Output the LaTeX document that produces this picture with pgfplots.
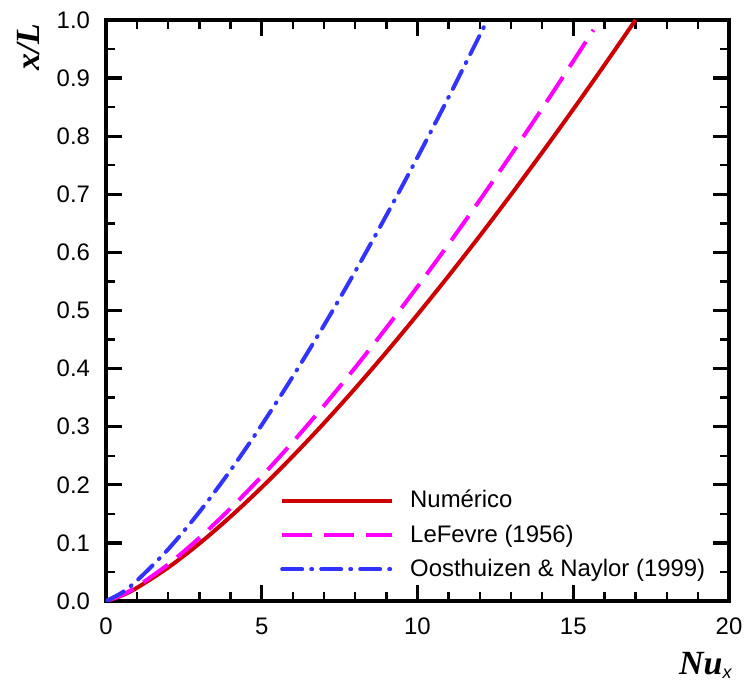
\documentclass[border=0pt]{standalone}
\usepackage{fontspec}
\setmainfont{Liberation Sans}
\newfontfamily\timesf{Liberation Serif}
\usepackage{pgfplots}
\pgfplotsset{compat=1.18}
\definecolor{cred}{RGB}{204,0,0}
\definecolor{cmag}{RGB}{255,0,255}
\definecolor{cblue}{RGB}{51,51,255}
\begin{document}
\begin{tikzpicture}
\begin{axis}[
  scale only axis, width=311.5bp, height=290.5bp,
  xmin=0, xmax=20, ymin=0, ymax=1,
  xtick={0,5,10,15,20},
  ytick={0,0.1,0.2,0.3,0.4,0.5,0.6,0.7,0.8,0.9,1.0},
  minor x tick num=4, minor y tick num=1,
  xtick pos=both, ytick pos=both,
  tick align=inside,
  major tick length=8bp, minor tick length=4.5bp,
  major tick style={black, line width=1.6bp},
  minor tick style={black, line width=1.2bp},
  axis line style={line width=2bp},
  tick label style={font=\fontsize{12}{14}\selectfont},
  /pgf/number format/assume math mode=true,
  xticklabel style={yshift=-5bp},
  yticklabel style={xshift=-4.5bp, /pgf/number format/.cd, fixed, fixed zerofill, precision=1},
  xlabel={{\timesf\bfseries\itshape Nu}\raisebox{-0.1em}{\fontsize{9}{10}\selectfont\itshape x}},
  ylabel={\timesf\bfseries\itshape x/L},
  xlabel style={at={(axis description cs:0.962,-0.111)}, anchor=center, inner sep=0pt, font=\fontsize{17}{19}\selectfont},
  ylabel style={at={(axis description cs:-0.124,0.953)}, anchor=center, font=\fontsize{17}{19}\selectfont},
  legend style={at={(axis description cs:0.279,0.198)}, anchor=north west, draw=none, fill=none,
    font=\fontsize{12}{14}\selectfont, row sep=3bp, inner sep=0pt,
    legend cell align=left},
  legend image code/.code={\draw[#1] (0bp,0bp) -- (55bp,0bp); \path (61bp,0bp);},
]
\addplot[cred, line width=2bp, smooth] coordinates {
(0,0) (0.5,0.0091) (1,0.0229) (2,0.0577) (3,0.0990) (4,0.1453) (5,0.1956) (6,0.2494)
(7,0.3063) (8,0.3660) (9,0.4283) (10,0.4930) (11,0.5597) (12,0.6285) (13,0.6993)
(14,0.7719) (15,0.8463) (16,0.9224) (17,1.0)};
\addlegendentry{Numérico}
\addplot[cmag, line width=2bp, smooth, dash pattern=on 15bp off 6bp] coordinates {
(0,0) (0.5,0.0100) (1,0.0251) (2,0.0633) (3,0.1087) (4,0.1595) (5,0.2147) (6,0.2738)
(7,0.3363) (8,0.4018) (9,0.4702) (10,0.5411) (11,0.6144) (12,0.6900) (13,0.7677)
(14,0.8475) (15,0.9291) (15.65,0.983)};
\addlegendentry{LeFevre (1956)}
\addplot[cblue, line width=2bp, smooth, line cap=round, dash pattern=on 10bp off 4.5bp on 0.5bp off 4.5bp] coordinates {
(0,0) (0.5,0.0141) (1,0.0354) (2,0.0893) (3,0.1534) (4,0.2251) (5,0.3031) (6,0.3866)
(7,0.4747) (8,0.5672) (9,0.6637) (10,0.7638) (11,0.8673) (12,0.9739) (12.24,1.0)};
\addlegendentry{Oosthuizen \& Naylor (1999)}
\end{axis}
\pgfresetboundingbox
\path[use as bounding box] ([shift={(-53bp,-39.5bp)}]current axis.south west) rectangle ([shift={(8bp,10bp)}]current axis.north east);
\end{tikzpicture}
\end{document}
